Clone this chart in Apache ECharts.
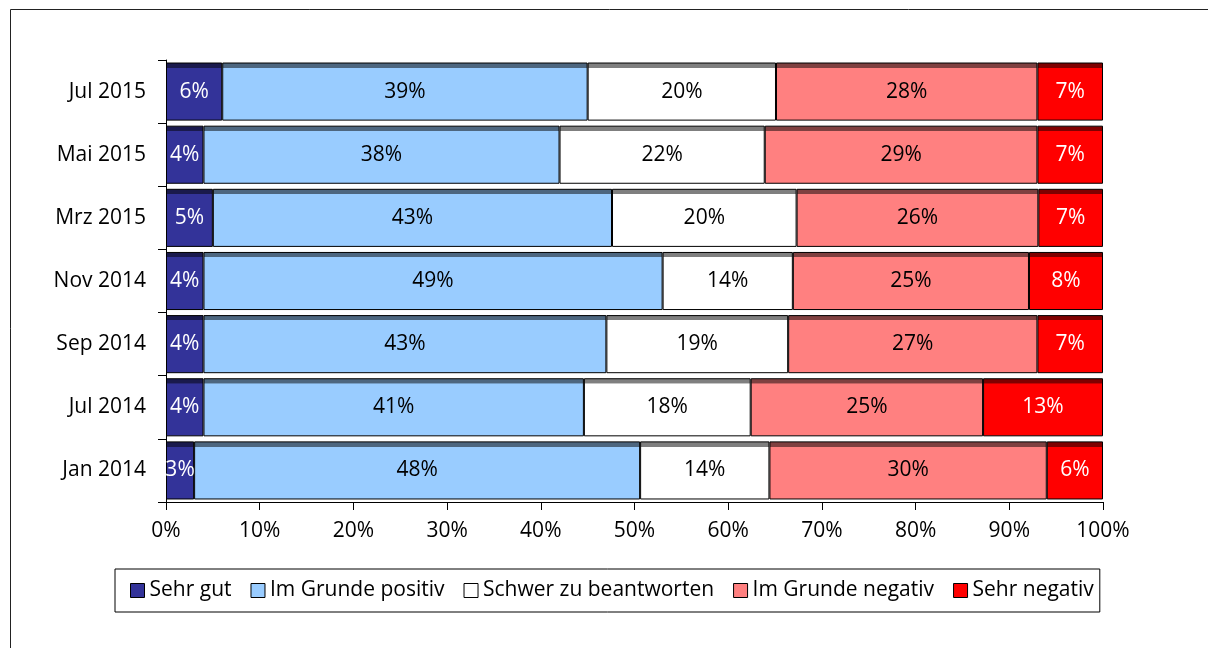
<!DOCTYPE html>
<html>
<head>
<meta charset="utf-8">
<script src="https://cdn.jsdelivr.net/npm/echarts@6/dist/echarts.min.js"></script>
<style>
  html, body { margin: 0; padding: 0; background: #fff; }
  #chart { width: 1208px; height: 648px; }
</style>
</head>
<body>
<div id="chart"></div>
<script>
// Kategorien von oben nach unten
const categories = ["Jul 2015", "Mai 2015", "Mrz 2015", "Nov 2014", "Sep 2014", "Jul 2014", "Jan 2014"];
const seriesNames = ["Sehr gut", "Im Grunde positiv", "Schwer zu beantworten", "Im Grunde negativ", "Sehr negativ"];
const sehrGut = [6, 4, 5, 4, 4, 4, 3];
const positiv = [39, 38, 42.6, 49, 43, 40.6, 47.6];
const schwer = [20.1, 21.9, 19.7, 13.9, 19.4, 17.8, 13.8];
const negativ = [27.9, 29.1, 25.8, 25.2, 26.6, 24.8, 29.6];
const sehrNegativ = [7, 7, 6.9, 7.9, 7, 12.8, 6];
const xTicks = [0, 10, 20, 30, 40, 50, 60, 70, 80, 90, 100];

const colors = ["#333399", "#99ccff", "#ffffff", "#ff8080", "#ff0000"];
const topColors = ["#1a1a4d", "#4d667f", "#7f7f7f", "#7f4040", "#7f0000"];
const labelColors = ["#fff", "#000", "#000", "#000", "#fff"];
const allData = [sehrGut, positiv, schwer, negativ, sehrNegativ];

const chart = echarts.init(document.getElementById("chart"), null, { renderer: "canvas" });

const font = "'Open Sans', 'Noto Sans', sans-serif";
const fs = 21;

const series = seriesNames.map((name, i) => ({
  name: name,
  type: "bar",
  stack: "total",
  barCategoryGap: "8%",
  data: allData[i],
  itemStyle: {
    color: new echarts.graphic.LinearGradient(0, 0, 0, 1, [
      { offset: 0, color: topColors[i] },
      { offset: 0.09, color: topColors[i] },
      { offset: 0.091, color: colors[i] },
      { offset: 1, color: colors[i] }
    ]),
    borderColor: "#000",
    borderWidth: 1
  },
  label: {
    show: true,
    position: "inside",
    color: labelColors[i],
    fontFamily: font,
    fontSize: fs,
    formatter: p => Math.round(p.value) + "%"
  }
}));

const option = {
  animation: false,
  color: colors,
  grid: { left: 166, right: 105, top: 60, bottom: 146 },
  legend: {
    bottom: 36,
    left: 115,
    data: seriesNames,
    icon: "rect",
    itemWidth: 14,
    itemHeight: 14,
    itemGap: 19,
    padding: [11, 6, 11, 15],
    borderColor: "#000",
    borderWidth: 1,
    borderRadius: 0,
    itemStyle: { borderColor: "#000", borderWidth: 1 },
    textStyle: { fontFamily: font, fontSize: fs, color: "#000", padding: [0, 0, 0, 0] }
  },
  xAxis: {
    type: "value",
    min: 0,
    max: 100,
    interval: 10,
    axisLine: { show: true, lineStyle: { color: "#000" } },
    axisTick: { show: true, length: 8, lineStyle: { color: "#000" } },
    splitLine: { show: false },
    axisLabel: {
      color: "#000",
      fontFamily: font,
      fontSize: fs,
      margin: 19,
      formatter: v => (xTicks.includes(v) ? v + "%" : "")
    }
  },
  yAxis: {
    type: "category",
    data: categories,
    inverse: true,
    axisLine: { show: true, lineStyle: { color: "#000" } },
    axisTick: { show: true, length: 8, lineStyle: { color: "#000" } },
    axisLabel: { color: "#000", fontFamily: font, fontSize: fs, margin: 20 }
  },
  graphic: [
    { type: "line", shape: { x1: 10.5, y1: 9.5, x2: 10.5, y2: 648 }, style: { stroke: "#222", lineWidth: 1 } },
    { type: "line", shape: { x1: 10.5, y1: 9.5, x2: 1208, y2: 9.5 }, style: { stroke: "#222", lineWidth: 1 } }
  ],
  series: series
};

chart.setOption(option);
</script>
</body>
</html>
